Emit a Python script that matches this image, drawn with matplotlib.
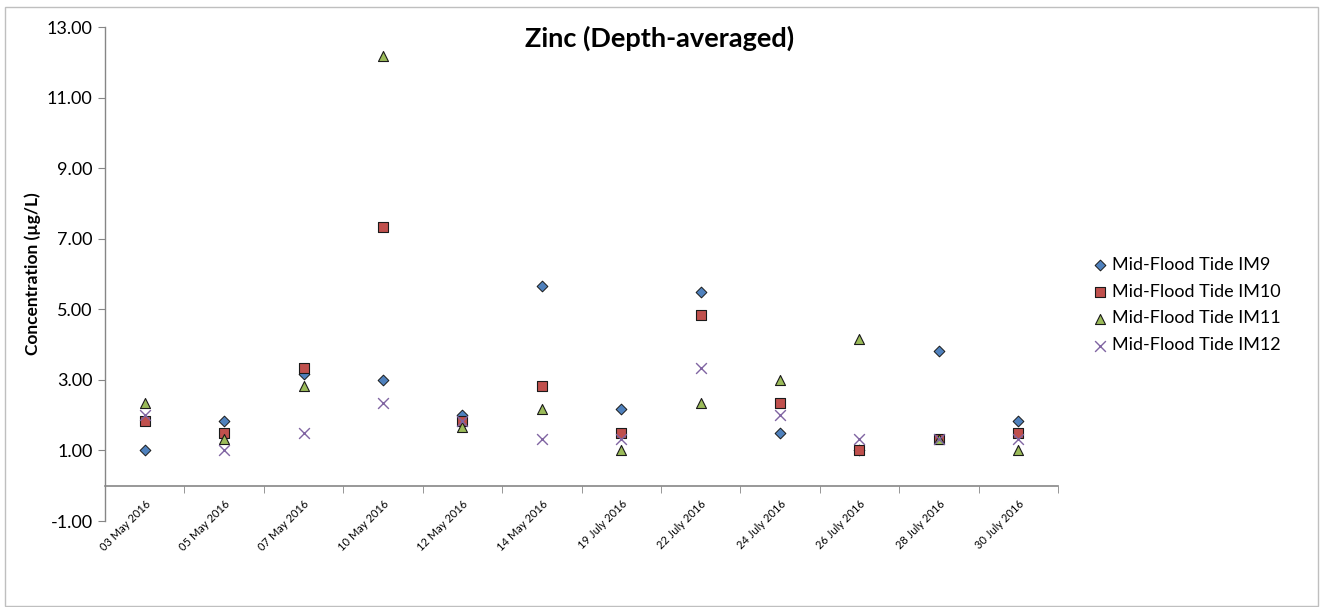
import matplotlib
matplotlib.use("Agg")
import matplotlib.pyplot as plt
from matplotlib.patches import Rectangle
import numpy as np

plt.rcParams['font.family'] = ['Lato', 'DejaVu Sans']

dates = ["03 May 2016", "05 May 2016", "07 May 2016", "10 May 2016", "12 May 2016",
         "14 May 2016", "19 July 2016", "22 July 2016", "24 July 2016", "26 July 2016",
         "28 July 2016", "30 July 2016"]
im9 = [1.00, 1.83, 3.17, 3.00, 2.00, 5.67, 2.17, 5.50, 1.50, 1.00, 3.83, 1.83]
im10 = [1.83, 1.50, 3.33, 7.33, 1.83, 2.83, 1.50, 4.83, 2.33, 1.00, 1.33, 1.50]
im11 = [2.33, 1.33, 2.83, 12.17, 1.67, 2.17, 1.00, 2.33, 3.00, 4.17, 1.33, 1.00]
im12 = [2.00, 1.00, 1.50, 2.33, 1.83, 1.33, 1.33, 3.33, 2.00, 1.33, 1.33, 1.33]
series_names = ["Mid-Flood Tide IM9", "Mid-Flood Tide IM10", "Mid-Flood Tide IM11", "Mid-Flood Tide IM12"]
yticks = [-1, 1, 3, 5, 7, 9, 11, 13]

W, H = 1320, 607
fig = plt.figure(figsize=(W / 100, H / 100), dpi=100)
ax = fig.add_axes([105 / W, 1 - 521 / H, (1058 - 105) / W, (521 - 27) / H])

for s in ['top', 'right']:
    ax.spines[s].set_visible(False)
ax.spines['bottom'].set_position(('data', 0))
ax.spines['bottom'].set_color('#868686')
ax.spines['left'].set_color('#868686')
ax.spines['bottom'].set_linewidth(1.2)
ax.spines['left'].set_linewidth(1.0)

x = np.arange(len(dates))
ax.scatter(x, im9, marker='D', s=30, facecolor='#4F81BD', edgecolor='#1a1a1a', linewidths=0.7,
           label=series_names[0], zorder=3)
ax.scatter(x, im10, marker='s', s=48, facecolor='#C0504D', edgecolor='#1a1a1a', linewidths=0.8,
           label=series_names[1], zorder=4)
ax.scatter(x, im11, marker='^', s=52, facecolor='#9BBB59', edgecolor='#1a1a1a', linewidths=0.8,
           label=series_names[2], zorder=5)
ax.scatter(x, im12, marker='x', s=60, color='#8064A2', linewidths=1.0,
           label=series_names[3], zorder=6)

ax.set_xlim(-0.5, len(dates) - 0.5)
ax.set_ylim(-1, 13)
ax.set_yticks(yticks)
ax.set_yticklabels([f"{v:.2f}" for v in yticks])

ax.set_xticks(x)
ax.set_xticks(np.arange(-0.5, len(dates), 1.0), minor=True)
ax.tick_params(axis='x', which='major', length=0, pad=9)
ax.tick_params(axis='x', which='minor', length=5, color='#868686', direction='out')
ax.tick_params(axis='y', length=5, color='#868686', direction='out', pad=4, labelsize=13)
ax.set_xticklabels(dates, rotation=45, ha='right', va='top', rotation_mode='anchor', fontsize=8)

ax.set_ylabel("Concentration (µg/L)", fontsize=12.5, fontweight='bold', labelpad=4)

fig.text(0.5, 1 - 38 / H, "Zinc (Depth-averaged)", ha='center', va='center',
         fontsize=19.5, fontweight='bold')

leg = fig.legend(loc='center left', bbox_to_anchor=(1073 / W, 1 - 305 / H), frameon=False,
                 fontsize=13, handletextpad=0.05, labelspacing=0.6, handlelength=1.2,
                 scatterpoints=1)

fig.patches.append(Rectangle((5 / W, 1 - 606 / H), (1318 - 5) / W, (606 - 7) / H,
                             transform=fig.transFigure, fill=False, edgecolor='#BFBFBF',
                             linewidth=1.0))

fig.savefig("out.png", dpi=100)
